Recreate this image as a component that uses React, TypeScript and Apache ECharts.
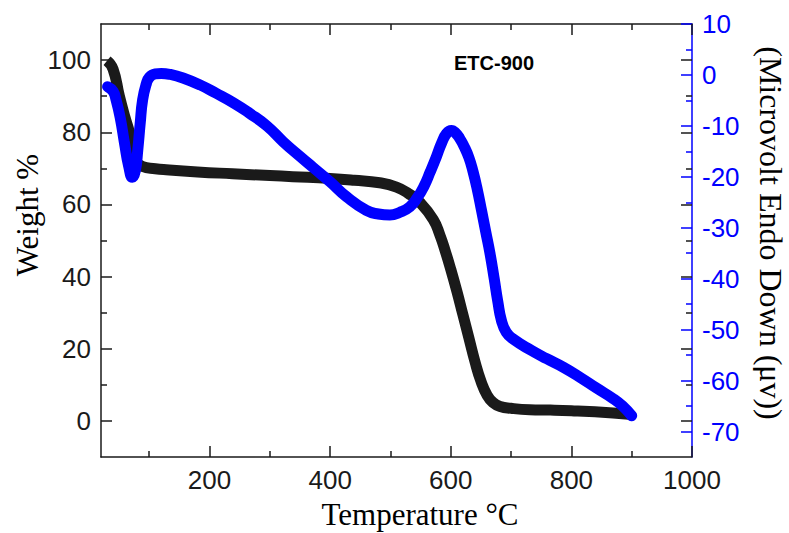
import React, { useEffect, useRef } from "react";
import * as echarts from "echarts";

// Weight % (TGA) curve
const tgaTemp = [30, 40, 50.5, 60, 67, 75, 89, 110, 128, 180, 238, 300, 338, 400, 440, 482, 510, 530, 549, 571, 582, 591, 600, 610, 620, 630, 640, 650, 660, 670, 682, 700, 731, 765, 800, 869, 900];
const tgaWeight = [99.8, 97.5, 90, 84, 80, 73.3, 70.5, 69.9, 69.6, 69.0, 68.5, 68.0, 67.7, 67.2, 66.7, 66.0, 64.8, 63, 60.5, 55.8, 51.5, 47, 42, 36, 29.5, 23, 16.5, 11, 7.2, 5.1, 4, 3.5, 3.1, 3.0, 2.8, 2.2, 1.8];

// DSC curve (Microvolt, Endo Down)
const dscTemp = [31, 40, 45, 52, 59, 66, 72, 77, 81, 85, 89, 95, 100, 110, 120, 135, 156, 185, 211, 240, 266, 295, 322, 350, 372, 400, 427, 460, 480, 499, 515, 532, 545, 555, 566, 576, 585, 593, 601, 608, 615, 622, 630, 637, 644, 651, 658, 665, 672, 678, 684, 692, 704, 734, 759, 787, 815, 842, 870, 885, 900];
const dscValue = [-2.3, -3.2, -4.9, -8.5, -13.4, -18, -20.1, -18.8, -14.7, -9.5, -4.9, -1.8, -0.5, 0.2, 0.3, 0.1, -0.6, -2, -3.6, -5.5, -7.5, -10, -13.1, -16, -18.2, -21, -23.9, -26.6, -27.3, -27.5, -27.0, -25.9, -24, -22, -19, -16.1, -13.3, -11.5, -10.9, -11.4, -12.5, -14.0, -16.2, -19.0, -22.5, -26.6, -30.8, -35, -40, -44.5, -48.2, -50.5, -51.9, -54.1, -55.7, -57.4, -59.4, -61.5, -63.6, -65, -66.9];

const xMajor = [200, 400, 600, 800, 1000];
const xMinor = [100, 300, 500, 700, 900];
const wMajor = [0, 20, 40, 60, 80, 100];
const wMinor = [10, 30, 50, 70, 90];
const dMajor = [-70, -60, -50, -40, -30, -20, -10, 0, 10];
const dMinor = [-65, -55, -45, -35, -25, -15, -5, 5];

const SANS = "Liberation Sans";
const SERIF = "Liberation Serif";
const BLACK = "#1a1a1a";
const BLUE = "#0000ff";

function tickAxis(extra: any, values: number[], len: number, color: string, labels: boolean, line: boolean) {
  return {
    type: "value",
    ...extra,
    axisLine: { show: line, onZero: false, lineStyle: { color, width: 1.5 } },
    axisTick: { show: true, inside: true, length: len, customValues: values, lineStyle: { color, width: 1.5 } },
    axisLabel: labels
      ? { show: true, customValues: values, color, fontSize: 26, fontFamily: SANS, margin: 10, formatter: (v: number) => String(v) }
      : { show: false },
    splitLine: { show: false },
  };
}

export default function App() {
  const ref = useRef<HTMLDivElement>(null);
  useEffect(() => {
    if (!ref.current) return;
    const chart = echarts.init(ref.current, null, { renderer: "svg" });
    const tgaData = tgaTemp.map((t, i) => [t, tgaWeight[i]]);
    const dscData = dscTemp.map((t, i) => [t, dscValue[i]]);
    const xr = { min: 20, max: 1000 };
    const wr = { min: -10, max: 110 };
    const dr = { min: -75, max: 10 };
    chart.setOption({
      animation: false,
      backgroundColor: "#fff",
      grid: { left: 101, top: 24, width: 591, height: 433, containLabel: false },
      xAxis: [
        tickAxis({ ...xr, position: "bottom" }, xMajor, 11, BLACK, true, true),
        tickAxis({ ...xr, position: "bottom" }, xMinor, 6, BLACK, false, false),
        tickAxis({ ...xr, position: "top" }, xMajor, 11, BLACK, false, true),
        tickAxis({ ...xr, position: "top" }, xMinor, 6, BLACK, false, false),
      ],
      yAxis: [
        tickAxis({ ...wr, position: "left" }, wMajor, 11, BLACK, true, true),
        tickAxis({ ...wr, position: "left" }, wMinor, 6, BLACK, false, false),
        tickAxis({ ...wr, position: "right" }, wMajor, 11, BLACK, false, false),
        tickAxis({ ...wr, position: "right" }, wMinor, 6, BLACK, false, false),
        tickAxis({ ...dr, position: "right" }, dMajor, 11, BLUE, true, true),
        tickAxis({ ...dr, position: "right" }, dMinor, 6, BLUE, false, false),
      ],
      series: [
        {
          type: "line",
          xAxisIndex: 0,
          yAxisIndex: 0,
          data: tgaData,
          showSymbol: false,
          smooth: 0.5,
          lineStyle: { color: BLACK, width: 11, cap: "butt", join: "round" },
          z: 3,
        },
        {
          type: "line",
          xAxisIndex: 0,
          yAxisIndex: 4,
          data: dscData,
          showSymbol: false,
          smooth: 0.5,
          lineStyle: { color: BLUE, width: 11, cap: "round", join: "round" },
          z: 4,
        },
      ],
      graphic: [
        {
          type: "text",
          x: 494,
          y: 63,
          style: { text: "ETC-900", fill: "#000", font: `bold 20px "${SANS}"`, align: "center", verticalAlign: "middle" },
        },
        {
          type: "text",
          x: 420,
          y: 514,
          style: { text: "Temperature °C", fill: "#000", font: `31px "${SERIF}"`, align: "center", verticalAlign: "middle" },
        },
        {
          type: "text",
          x: 27,
          y: 215,
          rotation: Math.PI / 2,
          style: { text: "Weight %", fill: "#000", font: `31px "${SERIF}"`, align: "center", verticalAlign: "middle" },
        },
        {
          type: "text",
          x: 771,
          y: 233,
          rotation: -Math.PI / 2,
          style: { text: "(Microvolt Endo Down (μv))", fill: "#000", font: `32px "${SERIF}"`, align: "center", verticalAlign: "middle" },
        },
      ],
    });
    return () => chart.dispose();
  }, []);
  return <div ref={ref} style={{ position: "fixed", left: 0, top: 0, width: 789, height: 533 }} />;
}
